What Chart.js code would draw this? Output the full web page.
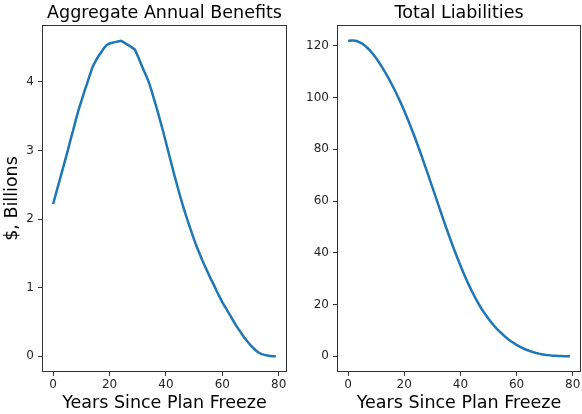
<!DOCTYPE html>
<html>
<head>
<meta charset="utf-8">
<script src="https://cdn.jsdelivr.net/npm/chart.js@4.4.1/dist/chart.umd.min.js"></script>
<style>
  body { margin: 0; background: #fff; }
  #wrap { position: relative; width: 582px; height: 414px; }
  canvas { position: absolute; top: 0; }
</style>
</head>
<body>
<div id="wrap">
  <canvas id="benefitsChart" width="291" height="414" style="left:0"></canvas>
  <canvas id="liabChart" width="291" height="414" style="left:291px"></canvas>
</div>
<script>
// years since plan freeze, 0..79
const years = [];
for (let i = 0; i < 80; i++) years.push(i);

// aggregate annual benefits, $ billions
const benefits = [
  2.22, 2.37, 2.52, 2.67, 2.82, 2.97, 3.13, 3.28, 3.44, 3.59,
  3.72, 3.85, 3.97, 4.10, 4.22, 4.30, 4.37, 4.43, 4.49, 4.54,
  4.56, 4.57, 4.58, 4.59, 4.60, 4.58, 4.55, 4.53, 4.50, 4.47,
  4.38, 4.28, 4.18, 4.09, 3.99, 3.86, 3.72, 3.58, 3.43, 3.28,
  3.12, 2.96, 2.80, 2.64, 2.49, 2.34, 2.20, 2.07, 1.94, 1.82,
  1.70, 1.59, 1.49, 1.39, 1.30, 1.21, 1.12, 1.04, 0.95, 0.87,
  0.79, 0.72, 0.65, 0.58, 0.51, 0.44, 0.38, 0.32, 0.26, 0.21,
  0.16, 0.12, 0.08, 0.05, 0.03, 0.02, 0.01, 0.005, 0.0, 0.0
];

// total liabilities, $ billions
const liabilities = [
  121.9, 122.1, 122.1, 121.9, 121.5, 120.9, 120.1, 119.1, 118.0, 116.7,
  115.2, 113.7, 112.0, 110.2, 108.3, 106.3, 104.2, 102.1, 99.8, 97.4,
  94.9, 92.3, 89.6, 86.8, 84.0, 81.0, 78.0, 74.9, 71.8, 68.6,
  65.4, 62.2, 59.0, 55.8, 52.6, 49.5, 46.5, 43.5, 40.6, 37.8,
  35.1, 32.5, 30.0, 27.6, 25.3, 23.2, 21.2, 19.3, 17.6, 16.0,
  14.5, 13.1, 11.8, 10.6, 9.5, 8.5, 7.5, 6.6, 5.8, 5.1,
  4.4, 3.8, 3.2, 2.7, 2.3, 1.9, 1.55, 1.25, 1.0, 0.78,
  0.6, 0.45, 0.33, 0.23, 0.15, 0.09, 0.05, 0.02, 0.0, 0.0
];

const xTicks = [0, 20, 40, 60, 80];
const benefitTicks = [0, 1, 2, 3, 4];
const liabTicks = [0, 20, 40, 60, 80, 100, 120];

const FONT = "'DejaVu Sans', sans-serif";
const INK = '#262626';

// box around the plot area like matplotlib spines
const framePlugin = {
  id: 'frame',
  afterDatasetsDraw(chart) {
    const a = chart.chartArea;
    const ctx = chart.ctx;
    ctx.save();
    ctx.strokeStyle = '#333';
    ctx.lineWidth = 1;
    ctx.strokeRect(Math.round(a.left) + 0.5, Math.round(a.top) + 0.5,
      Math.round(a.right - a.left) - 1, Math.round(a.bottom - a.top) - 1);
    ctx.restore();
  }
};

function plotPanel(canvasId, values, titleText, yTicks, yMin, yMax, yTitle, yWidth, padRight) {
  const ctx = document.getElementById(canvasId).getContext('2d');
  return new Chart(ctx, {
    type: 'line',
    data: {
      datasets: [{
        data: years.map((y, i) => ({ x: y, y: values[i] })),
        borderColor: '#1f77b4',
        borderWidth: 2.5,
        pointRadius: 0,
        tension: 0,
        fill: false
      }]
    },
    options: {
      responsive: false,
      animation: false,
      layout: { padding: { left: 0, right: padRight, top: 0, bottom: 0 } },
      plugins: {
        legend: { display: false },
        tooltip: { enabled: false },
        title: {
          display: true,
          text: titleText,
          fullSize: false,
          color: '#000',
          font: { family: FONT, size: 17.5, weight: 'normal' },
          padding: { top: 2.5, bottom: 1.5 }
        }
      },
      scales: {
        x: {
          type: 'linear',
          min: -3.95,
          max: 82.95,
          afterBuildTicks: s => { s.ticks = xTicks.map(v => ({ value: v })); },
          afterFit: s => { s.height = 42; },
          grid: { drawOnChartArea: false, drawTicks: true, tickLength: 4, color: '#333' },
          border: { display: false },
          ticks: { color: INK, font: { family: FONT, size: 12 }, padding: 1.5, maxRotation: 0 },
          title: {
            display: true,
            text: 'Years Since Plan Freeze',
            color: '#000',
            font: { family: FONT, size: 17.5 },
            padding: { top: 0, bottom: 0.5 }
          }
        },
        y: {
          type: 'linear',
          min: yMin,
          max: yMax,
          afterBuildTicks: s => { s.ticks = yTicks.map(v => ({ value: v })); },
          afterFit: s => { s.width = yWidth; },
          grid: { drawOnChartArea: false, drawTicks: true, tickLength: 4, color: '#333' },
          border: { display: false },
          ticks: { color: INK, font: { family: FONT, size: 12 }, padding: 4 },
          title: {
            display: !!yTitle,
            text: yTitle,
            color: '#000',
            font: { family: FONT, size: 17.5 },
            padding: { top: 2, bottom: 0 }
          }
        }
      }
    },
    plugins: [framePlugin]
  });
}

plotPanel('benefitsChart', benefits, 'Aggregate Annual Benefits', benefitTicks, -0.23, 4.83, '$, Billions', 42, 4);
plotPanel('liabChart', liabilities, 'Total Liabilities', liabTicks, -6.1, 128.1, '', 46, 1);
</script>
</body>
</html>
